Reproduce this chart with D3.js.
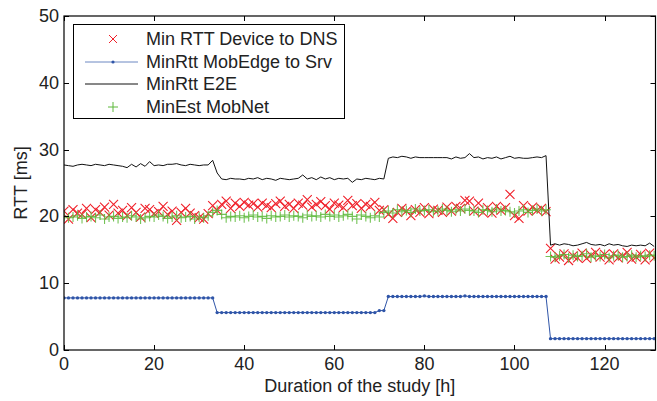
<!DOCTYPE html>
<html>
<head>
<meta charset="utf-8">
<script src="https://cdn.jsdelivr.net/npm/d3@7"></script>
<style>
  html, body { margin: 0; padding: 0; background: #fff; }
  svg { display: block; font-family: "Liberation Sans", Arial, Helvetica, sans-serif; }
</style>
</head>
<body>
<svg id="chart" width="657" height="401"></svg>
<script>
// hours 0..131, one sample per hour
const minRttDns = [
  20.8, 19.6, 21.0, 20.5, 20.3, 21.2, 19.8, 21.0, 20.6, 21.4, 20.2, 21.8, 20.5, 20.9, 20.1, 21.3, 20.6, 19.9, 21.2, 21.0,
  20.4, 20.7, 21.5, 20.3, 20.8, 19.4, 20.6, 21.2, 20.5, 20.1, 19.8, 19.6, 20.4, 21.6,
  20.9, 21.8, 22.3, 21.2, 22.0, 21.5, 22.1, 21.7, 21.9, 21.4, 22.0, 21.6, 21.3, 21.9, 22.3, 21.5, 21.8, 21.2, 22.0, 21.7,
  22.5, 21.4, 21.8, 22.2, 21.6, 21.1, 22.0, 21.7, 21.3, 22.4, 21.6, 21.9, 21.2, 21.8, 21.5, 22.1, 20.9, 21.0,
  20.3, 19.7, 20.6, 21.2, 20.8, 20.1, 21.0, 20.6, 21.3, 20.4, 21.1, 20.9, 20.6, 21.4, 20.8, 21.5, 21.2, 22.4, 22.3, 20.8,
  22.0, 20.6, 21.3, 20.5, 21.5, 20.9, 21.3, 23.3, 20.1, 19.7, 21.6, 20.8, 21.4, 20.9, 21.2, 20.7,
  15.2, 13.6, 13.9, 14.4, 13.4, 14.1, 13.8, 14.5, 13.7, 14.2, 14.6, 13.9, 14.3, 13.5, 14.4, 13.8, 14.1, 14.6, 13.6,
  13.9, 14.3, 13.5, 14.5, 13.8
];
const minRttEdge = [
  7.8, 7.8, 7.8, 7.8, 7.8, 7.8, 7.8, 7.8, 7.8, 7.8, 7.8, 7.8, 7.8, 7.8, 7.8, 7.8, 7.8, 7.8, 7.8, 7.8,
  7.8, 7.8, 7.8, 7.8, 7.8, 7.8, 7.8, 7.8, 7.8, 7.8, 7.8, 7.8, 7.8, 7.8,
  5.6, 5.6, 5.6, 5.6, 5.6, 5.6, 5.6, 5.6, 5.6, 5.6, 5.6, 5.6, 5.6, 5.6, 5.6, 5.6, 5.6, 5.6, 5.6, 5.6,
  5.6, 5.6, 5.6, 5.6, 5.6, 5.6, 5.6, 5.6, 5.6, 5.6, 5.6, 5.6, 5.6, 5.6, 5.6, 5.6, 5.9, 5.9,
  8.0, 8.0, 8.0, 8.0, 8.0, 8.0, 8.0, 8.0, 8.1, 8.0, 8.0, 8.0, 8.0, 8.0, 8.0, 8.0, 8.0, 8.1, 8.0, 8.0,
  8.0, 8.0, 8.0, 8.0, 8.0, 8.0, 8.0, 8.0, 8.0, 8.0, 8.0, 8.0, 8.0, 8.0, 8.0, 8.0,
  1.7, 1.7, 1.7, 1.7, 1.7, 1.7, 1.7, 1.7, 1.7, 1.7, 1.7, 1.7, 1.7, 1.7, 1.7, 1.7, 1.7, 1.7, 1.7, 1.7,
  1.7, 1.7, 1.7, 1.7
];
const minRttE2E = [
  27.7, 27.6, 27.5, 27.7, 27.8, 27.7, 27.6, 27.8, 27.7, 27.6, 27.8, 27.7, 27.6, 27.5, 27.3, 27.8, 27.4, 27.9, 27.5, 28.2,
  27.6, 27.7, 27.6, 27.8, 27.8, 27.9, 27.7, 27.6, 27.8, 27.7, 27.6, 27.7, 27.7, 28.4,
  26.5, 25.6, 25.5, 25.7, 25.6, 25.6, 25.5, 25.7, 25.6, 25.8, 25.5, 25.7, 25.6, 25.4, 25.7, 25.6, 25.5, 25.6, 25.7, 26.2,
  25.6, 25.8, 25.5, 25.9, 25.6, 25.8, 25.5, 25.7, 25.6, 25.7, 25.1, 25.6, 25.5, 25.7, 25.6, 25.5, 25.7, 25.6,
  28.7, 28.9, 28.8, 29.0, 28.9, 28.7, 28.9, 28.8, 28.8, 28.8, 28.8, 28.8, 28.8, 28.8, 28.6, 28.9, 28.7, 28.8, 29.4, 28.8,
  28.9, 28.6, 28.8, 28.7, 28.9, 28.6, 28.8, 29.0, 28.7, 28.8, 28.7, 28.7, 28.8, 28.9, 28.8, 29.1,
  15.7, 15.9, 15.7, 15.9, 15.8, 15.6, 15.7, 15.9, 16.1, 15.8, 15.7, 15.8, 15.6, 15.9, 15.7, 15.8, 15.6, 15.5, 15.7,
  15.6, 15.7, 15.6, 16.0, 15.5
];
const minEstMobNet = [
  20.0, 19.8, 19.9, 20.1, 19.7, 19.9, 20.0, 19.8, 20.2, 19.6, 19.9, 20.0, 19.7, 19.9, 19.8, 20.1, 19.9, 19.6, 19.8, 20.0,
  19.9, 20.2, 20.0, 19.7, 19.9, 20.1, 19.8, 19.9, 20.0, 19.6, 19.9, 19.8, 20.1, 20.6,
  20.9, 20.3, 19.8, 20.0, 19.9, 20.1, 19.8, 20.0, 20.2, 19.9, 20.0, 19.7, 20.1, 19.9, 20.0, 20.2, 19.9, 20.1, 20.0, 19.8,
  20.2, 20.0, 20.1, 19.9, 20.3, 20.0, 20.2, 19.9, 20.1, 20.3, 20.0, 19.6, 20.2, 20.0, 19.8, 20.1, 19.9, 20.6,
  20.8, 20.5, 21.0, 20.7, 20.9, 20.6, 21.1, 20.8, 20.9, 21.0, 20.7, 20.8, 21.1, 20.9, 20.7, 21.0, 20.8, 21.1, 20.9, 20.8,
  20.6, 21.0, 20.9, 20.7, 21.1, 20.8, 20.9, 20.7, 20.5, 20.8, 21.0, 20.6, 20.9, 21.1, 20.8, 21.0,
  14.0, 13.9, 14.1, 14.3, 13.8, 14.2, 14.0, 14.1, 14.4, 13.9, 14.1, 14.0, 14.3, 13.8, 14.1, 14.2, 13.9, 14.0, 14.2,
  13.9, 14.1, 14.0, 14.2, 14.1
];
const hours = minRttEdge.map((v, i) => i);
const xTicks = [0, 20, 40, 60, 80, 100, 120];
const yTicks = [0, 10, 20, 30, 40, 50];
const legendLabels = ["Min RTT Device to DNS", "MinRtt MobEdge to Srv", "MinRtt E2E", "MinEst MobNet"];

const RED = "#f0202a";
const BLUE = "#2f55a8";
const GREEN = "#5cb83a";

const svg = d3.select("#chart");
const plot = { left: 64, right: 655.5, top: 16, bottom: 350 };

const x = d3.scaleLinear().domain([0, 131.3]).range([plot.left, plot.right]);
const y = d3.scaleLinear().domain([0, 50]).range([plot.bottom, plot.top]);

const clipId = "plotClip";
svg.append("defs").append("clipPath").attr("id", clipId)
  .append("rect")
  .attr("x", plot.left).attr("y", plot.top)
  .attr("width", plot.right - plot.left).attr("height", plot.bottom - plot.top);

const data = svg.append("g").attr("clip-path", `url(#${clipId})`);

function crossPath(cx, cy, r) {
  return `M${cx - r},${cy - r}L${cx + r},${cy + r}M${cx - r},${cy + r}L${cx + r},${cy - r}`;
}
function plusPath(cx, cy, r) {
  return `M${cx - r},${cy}L${cx + r},${cy}M${cx},${cy - r}L${cx},${cy + r}`;
}

// red crosses
data.append("g")
  .selectAll("path")
  .data(hours)
  .join("path")
  .attr("d", i => crossPath(x(i), y(minRttDns[i]), 4.5))
  .attr("stroke", RED)
  .attr("stroke-width", 1.1)
  .attr("fill", "none");

// blue line with dots
const line = d3.line().x(d => x(d[0])).y(d => y(d[1]));
data.append("path")
  .datum(hours.map(i => [i, minRttEdge[i]]))
  .attr("d", line)
  .attr("fill", "none")
  .attr("stroke", BLUE)
  .attr("stroke-width", 1);
data.append("g")
  .selectAll("circle")
  .data(hours)
  .join("circle")
  .attr("cx", i => x(i))
  .attr("cy", i => y(minRttEdge[i]))
  .attr("r", 1.7)
  .attr("fill", BLUE);

// black line
data.append("path")
  .datum(hours.map(i => [i, minRttE2E[i]]))
  .attr("d", line)
  .attr("fill", "none")
  .attr("stroke", "#111")
  .attr("stroke-width", 1);

// green pluses
data.append("g")
  .selectAll("path")
  .data(hours)
  .join("path")
  .attr("d", i => plusPath(x(i), y(minEstMobNet[i]), 5))
  .attr("stroke", GREEN)
  .attr("stroke-width", 1.1)
  .attr("stroke-opacity", 0.85)
  .attr("fill", "none");

// axes (MATLAB style: box, inward ticks)
const axes = svg.append("g").attr("font-size", 18).attr("fill", "#222");
const tickLen = 5;

axes.append("rect")
  .attr("x", plot.left).attr("y", plot.top)
  .attr("width", plot.right - plot.left).attr("height", plot.bottom - plot.top)
  .attr("fill", "none").attr("stroke", "#000").attr("stroke-width", 1.2);

xTicks.forEach(t => {
  const px = Math.round(x(t)) + 0.5;
  axes.append("line").attr("x1", px).attr("x2", px)
    .attr("y1", plot.bottom).attr("y2", plot.bottom - tickLen).attr("stroke", "#000");
  axes.append("line").attr("x1", px).attr("x2", px)
    .attr("y1", plot.top).attr("y2", plot.top + tickLen).attr("stroke", "#000");
  axes.append("text").attr("x", x(t)).attr("y", 370)
    .attr("text-anchor", "middle").text(t);
});

yTicks.forEach(t => {
  const py = Math.round(y(t)) + 0.5;
  axes.append("line").attr("x1", plot.left).attr("x2", plot.left + tickLen)
    .attr("y1", py).attr("y2", py).attr("stroke", "#000");
  axes.append("line").attr("x1", plot.right).attr("x2", plot.right - tickLen)
    .attr("y1", py).attr("y2", py).attr("stroke", "#000");
  axes.append("text").attr("x", 59).attr("y", y(t) + 6)
    .attr("text-anchor", "end").text(t);
});

axes.append("text")
  .attr("x", (plot.left + plot.right) / 2).attr("y", 392)
  .attr("text-anchor", "middle").text("Duration of the study [h]");

axes.append("text")
  .attr("transform", `translate(27,${(plot.top + plot.bottom) / 2}) rotate(-90)`)
  .attr("text-anchor", "middle").text("RTT [ms]");

// legend
const legend = svg.append("g").attr("font-size", 18).attr("fill", "#222");
legend.append("rect")
  .attr("x", 73.5).attr("y", 24.5).attr("width", 271).attr("height", 94)
  .attr("fill", "#fff").attr("stroke", "#000").attr("stroke-width", 1);

const rowY = [39, 62, 84, 107];
const mx = 113;
legend.append("path").attr("d", crossPath(mx, rowY[0], 4))
  .attr("stroke", RED).attr("fill", "none");
legend.append("line").attr("x1", 85).attr("x2", 138).attr("y1", rowY[1]).attr("y2", rowY[1])
  .attr("stroke", BLUE).attr("stroke-opacity", 0.7);
legend.append("circle").attr("cx", mx).attr("cy", rowY[1]).attr("r", 1.6).attr("fill", BLUE);
legend.append("line").attr("x1", 85).attr("x2", 138).attr("y1", rowY[2]).attr("y2", rowY[2])
  .attr("stroke", "#111");
legend.append("path").attr("d", plusPath(mx, rowY[3], 5))
  .attr("stroke", GREEN).attr("fill", "none");

legendLabels.forEach((label, i) => {
  legend.append("text").attr("x", 146).attr("y", rowY[i] + 6).text(label);
});
</script>
</body>
</html>
